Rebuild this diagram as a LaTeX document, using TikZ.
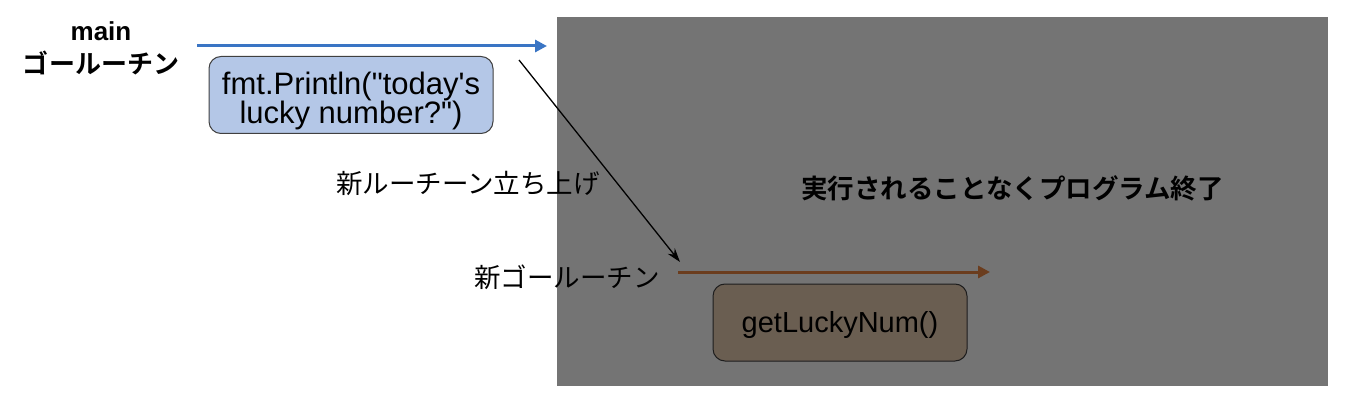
\documentclass[tikz,border=0pt]{standalone}
\usepackage{fontspec}
\usetikzlibrary{arrows.meta}
\newfontfamily\lsans{Liberation Sans}
\newfontfamily\jp[BoldFont={Noto Sans CJK JP Bold}]{Noto Sans CJK JP}
\definecolor{bluearrow}{RGB}{58,117,196}
\definecolor{bluebox}{RGB}{180,199,231}
\definecolor{brownarrow}{RGB}{237,136,66}
\definecolor{brownbox}{RGB}{235,207,180}
\begin{document}
\begin{tikzpicture}[x=1pt,y=-1pt,
  codebox/.style={draw=black!75, line width=1pt, rounded corners=12pt, inner sep=0pt},
  codetext/.style={align=center, inner sep=0pt, font=\lsans\fontsize{29}{27}\selectfont},
  jplabel/.style={font=\jp\fontsize{26.5}{33}\selectfont, inner sep=0pt, align=center},
  thread/.style={line width=3pt, -{Triangle[length=12pt,width=12pt]}},
  spawn/.style={line width=1.3pt, black, -{Stealth[length=14pt,width=9pt]}}]
\useasboundingbox (0,0) rectangle (1346,406);
% main goroutine
\node[jplabel, font=\jp\bfseries\fontsize{26}{33}\selectfont] (mainlbl) at (101,48) {{\lsans\bfseries main}\\ゴールーチン};
\coordinate (mainstart) at (197,46);
\coordinate (mainend) at (547,46);
\draw[thread, bluearrow] (mainstart) -- (mainend);
\node[codebox, fill=bluebox, minimum width=284pt, minimum height=77pt] (fmtbox) at (351,95) {};
\node[codetext, font=\lsans\fontsize{31}{27}\selectfont] (fmttext) at (351,101) {fmt.Println("today's\\lucky number?")};
% spawn
\coordinate (spawnstart) at (519,60);
\coordinate (spawnend) at (680,262);
\draw[spawn] (spawnstart) -- (spawnend);
\node[jplabel] (spawnlbl) at (468,183) {新ルーチーン立ち上げ};
% new goroutine
\node[jplabel] (newlbl) at (567,277) {新ゴールーチン};
\coordinate (newstart) at (678,272);
\coordinate (newend) at (990,272);
\draw[thread, brownarrow] (newstart) -- (newend);
\node[codebox, fill=brownbox, minimum width=254pt, minimum height=77pt] (luckybox) at (840,322.5) {};
\node[codetext] (luckytext) at (840,325.5) {getLuckyNum()};
% overlay
\fill[black, opacity=0.545] (557,17) rectangle (1328,386);
\node[jplabel, font=\jp\bfseries\fontsize{26.5}{31}\selectfont] (endlbl) at (1012.5,188) {実行されることなくプログラム終了};
\end{tikzpicture}
\end{document}
